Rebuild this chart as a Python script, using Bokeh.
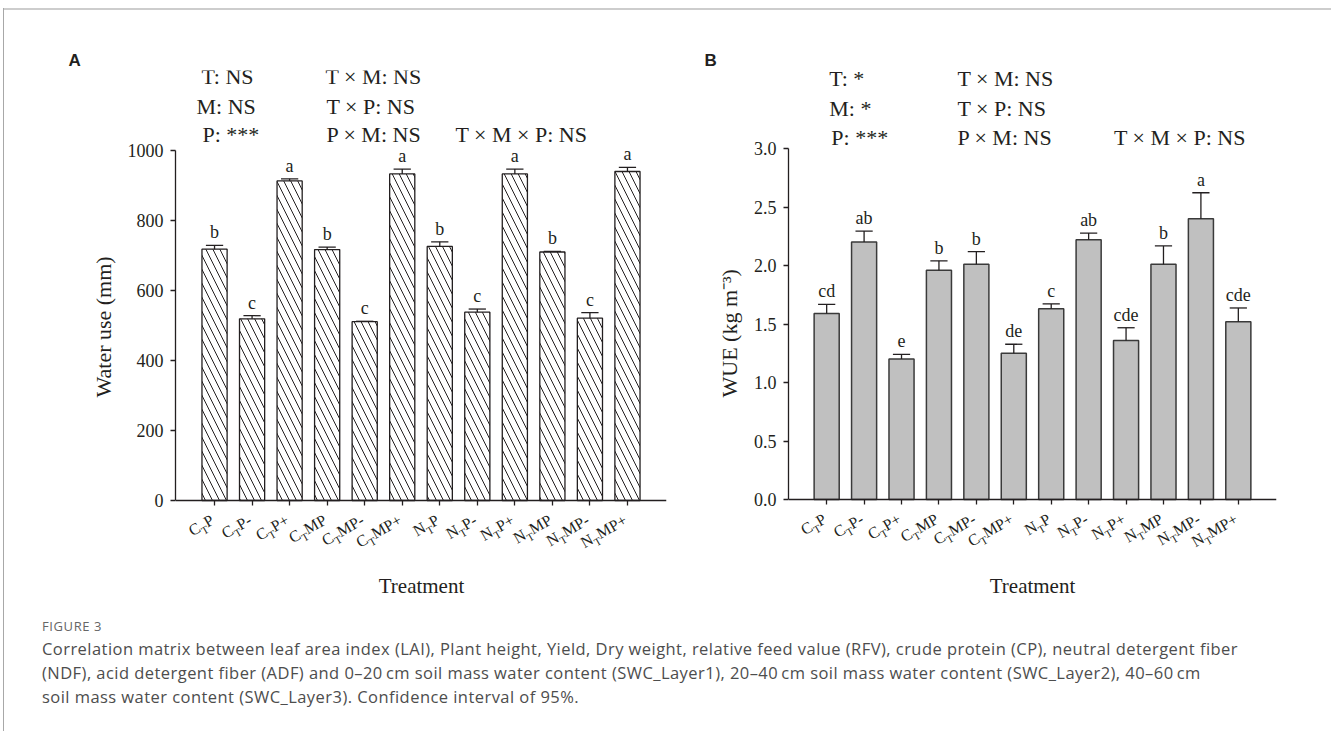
import math
from bokeh.plotting import figure
from bokeh.models import (ColumnDataSource, LabelSet, Label, FixedTicker, Div, Range1d,
                          NumeralTickFormatter, Title)
from bokeh.layouts import row, column
from bokeh.embed import file_html
from bokeh.resources import INLINE

# ---------------- data ----------------
treatments = ["C_TP", "C_TP-", "C_TP+", "C_TMP", "C_TMP-", "C_TMP+",
              "N_TP", "N_TP-", "N_TP+", "N_TMP", "N_TMP-", "N_TMP+"]

water_use = [718, 519, 913, 717, 511, 933, 726, 538, 933, 710, 521, 940]
water_use_se = [11, 9, 6, 7, 1, 14, 13, 9, 14, 2, 16, 12]
water_use_letters = ["b", "c", "a", "b", "c", "a", "b", "c", "a", "b", "c", "a"]

wue = [1.59, 2.20, 1.20, 1.96, 2.01, 1.25, 1.63, 2.22, 1.36, 2.01, 2.40, 1.52]
wue_se = [0.077, 0.094, 0.040, 0.080, 0.108, 0.077, 0.042, 0.057, 0.108, 0.157, 0.222, 0.117]
wue_letters = ["cd", "ab", "e", "b", "b", "de", "c", "ab", "cde", "b", "a", "cde"]

yticks_a = [0, 200, 400, 600, 800, 1000]
yticks_b = [0.0, 0.5, 1.0, 1.5, 2.0, 2.5, 3.0]

stats_a = [("T: NS", 201, 76), ("M: NS", 196, 106), ("P: ***", 202, 134),
           ("T × M: NS", 325, 76), ("T × P: NS", 326, 106), ("P × M: NS", 326, 134),
           ("T × M × P: NS", 455, 134)]
stats_b = [("T: *", 828.8, 78), ("M: *", 828.8, 108), ("P: ***", 830.8, 137),
           ("T × M: NS", 957, 78), ("T × P: NS", 957, 108), ("P × M: NS", 957, 137),
           ("T × M × P: NS", 1113.5, 137)]

INK = "#231f20"
SERIF = "Liberation Serif"
METRICS = {"C": 0.667, "N": 0.722, "T": 0.611, "M": 0.889, "P": 0.556, "-": 0.333, "+": 0.564}


def tw(s, size):
    return sum(METRICS.get(ch, 0.5) for ch in s) * size


def make_panel(vals, errs, letters, ymax, yticks, ylabel, fig_x, width, mbl, mbr,
               x0, x1, axis_py, ppy, hatch, stats, panel_letter, panel_px, xlabel_px,
               ylabel_bottom_py, fmt=None):
    height, mbt, mbb = 610, 70, 12
    ft, fb = mbt, height - mbb
    ylo = -(fb - axis_py) / ppy
    yhi = (axis_py - ft) / ppy
    p = figure(width=width, height=height, output_backend="svg", toolbar_location=None,
               x_range=Range1d(x0, x1), y_range=Range1d(ylo, yhi),
               min_border_left=mbl, min_border_right=mbr, min_border_top=mbt, min_border_bottom=mbb)
    p.outline_line_color = None
    p.xgrid.visible = False
    p.ygrid.visible = False
    p.background_fill_color = "white"
    p.border_fill_color = "white"

    idx = list(range(1, len(vals) + 1))
    tops = [v + e for v, e in zip(vals, errs)]
    src = ColumnDataSource(dict(x=idx, top=vals, etop=tops, let=letters,
                                cx0=[i - 0.23 for i in idx], cx1=[i + 0.23 for i in idx]))
    if hatch:
        p.vbar(x="x", top="top", width=0.67, bottom=0, source=src, fill_color="white",
               line_color=INK, line_width=1.3, hatch_pattern="\\", hatch_scale=14,
               hatch_weight=1, hatch_color=INK)
    else:
        p.vbar(x="x", top="top", width=0.67, bottom=0, source=src, fill_color="#c0c0c0",
               line_color="#3a3a3a", line_width=1.5)
    p.segment(x0="x", y0="top", x1="x", y1="etop", source=src, line_color=INK, line_width=1.3)
    p.segment(x0="cx0", y0="etop", x1="cx1", y1="etop", source=src, line_color=INK, line_width=1.3)
    p.add_layout(LabelSet(x="x", y="etop", text="let", source=src, y_offset=7,
                          text_align="center", text_baseline="alphabetic",
                          text_font=SERIF, text_font_size="18px", text_color=INK))

    # axes
    for ax in (p.xaxis[0], p.yaxis[0]):
        ax.axis_line_color = INK
        ax.axis_line_width = 1.3
        ax.major_tick_line_color = INK
        ax.major_tick_line_width = 1.3
        ax.major_tick_out = 5
        ax.major_tick_in = 0
        ax.minor_tick_line_color = None
        ax.major_label_text_font = SERIF
        ax.major_label_text_font_size = "18px"
        ax.major_label_text_color = INK
    p.yaxis.ticker = FixedTicker(ticks=yticks)
    p.yaxis.bounds = (0, ymax)
    if fmt:
        p.yaxis.formatter = NumeralTickFormatter(format=fmt)
    p.yaxis.major_label_standoff = 7
    p.xaxis.ticker = FixedTicker(ticks=idx)
    p.xaxis.fixed_location = 0
    p.xaxis.major_label_overrides = {i: "" for i in idx}
    p.xaxis.major_label_text_font_size = "1px"
    p.xaxis.major_label_standoff = 0

    # y axis title (vertical), placed on the left side
    p.add_layout(Title(text=ylabel, align="left", offset=fb - ylabel_bottom_py, standoff=18,
                       text_font=SERIF, text_font_size="22px", text_font_style="normal",
                       text_color=INK), "left")

    # panel letter as title
    p.title.text = panel_letter
    p.title.align = "left"
    p.title.offset = panel_px - (fig_x + mbl)
    p.title.standoff = 1
    p.title.text_font = "Liberation Sans"
    p.title.text_font_style = "bold"
    p.title.text_font_size = "17px"
    p.title.text_color = INK

    # page -> data helpers
    fl = fig_x + mbl
    ppx = (fig_x + width - mbr - fl) / (x1 - x0)

    def dx(px):
        return x0 + (px - fl) / ppx

    def dy(py):
        return (axis_py - py) / ppy

    # rotated tick labels with subscript T
    th = math.radians(30)
    c, s = math.cos(th), math.sin(th)
    F, FS, DROP = 16, 11, 6
    ex, ey = -2, -18
    main = dict(x=[], y=[], text=[], xo=[], yo=[])
    sub = dict(x=[], y=[], text=[], xo=[], yo=[])
    for i, lab in zip(idx, treatments):
        head, tail = lab.split("_")
        parts = [(head, F, 0), (tail[0], FS, DROP), (tail[1:], F, 0)]
        W = sum(tw(t, f) for t, f, _ in parts)
        sx, sy = ex - W * c, ey - W * s
        adv = 0.0
        for t, f, drop in parts:
            d = sub if drop else main
            d["x"].append(i)
            d["y"].append(0)
            d["text"].append(t)
            d["xo"].append(sx + adv * c + drop * s)
            d["yo"].append(sy + adv * s - drop * c)
            adv += tw(t, f)
    for d, size in ((main, F), (sub, FS)):
        p.add_layout(LabelSet(x="x", y="y", text="text", x_offset="xo", y_offset="yo",
                              source=ColumnDataSource(d), angle=th, text_align="left",
                              text_baseline="middle", text_font=SERIF,
                              text_font_size=f"{size}px", text_color=INK))

    # x axis title
    p.add_layout(Label(x=dx(xlabel_px), y=dy(585), text="Treatment", text_font=SERIF,
                       text_font_size="21px", text_color=INK, text_align="center",
                       text_baseline="middle"))

    # statistics annotations
    for txt, px, py in stats:
        p.add_layout(Label(x=dx(px), y=dy(py), text=txt, text_font=SERIF, text_font_size="22px",
                           text_color=INK, text_align="left", text_baseline="alphabetic"))
    return p


pa = make_panel(water_use, water_use_se, water_use_letters, 1000, yticks_a, "Water use (mm)",
                0, 690, 175, 24, -0.04, 13.04, 500, 0.35, True, stats_a, "A", 68, 421, 397)
pb = make_panel(wue, wue_se, wue_letters, 3.0, yticks_b, "WUE (kg m\u207b\u00b3)",
                690, 633, 98, 47, -0.02, 13.02, 499, 117.0, False, stats_b, "B", 704, 1032, 397,
                fmt="0.0")

caption_html = (
    '<div style="position:absolute; left:-2px; top:-607px; width:1330px; height:2px; background:#cdcdcd;"></div>'
    '<div style="position:absolute; left:-2px; top:-607px; width:1px; height:731px; background:#a8a8a8;"></div>'
    '<div style="padding:3px 0 0 37px; font-family:\'Open Sans\'; white-space:nowrap;">'
    '<div style="font-size:13px; line-height:16px; color:#666; letter-spacing:0.6px; margin-bottom:3px;">FIGURE 3</div>'
    '<div style="font-size:16.5px; line-height:24px; color:#4d4d4d; letter-spacing:0.45px;">'
    'Correlation matrix between leaf area index (LAI), Plant height, Yield, Dry weight, relative feed value (RFV), crude protein (CP), neutral detergent fiber<br>'
    '(NDF), acid detergent fiber (ADF) and 0\u201320\u2009cm soil mass water content (SWC_Layer1), 20\u201340\u2009cm soil mass water content (SWC_Layer2), 40\u201360\u2009cm<br>'
    'soil mass water content (SWC_Layer3). Confidence interval of 95%.'
    '</div></div>'
)
cap = Div(text=caption_html, width=1323, height=105, styles={"position": "relative", "overflow": "visible"})

layout = column(row(pa, pb), cap)
open("out.html", "w").write(file_html(layout, INLINE))
